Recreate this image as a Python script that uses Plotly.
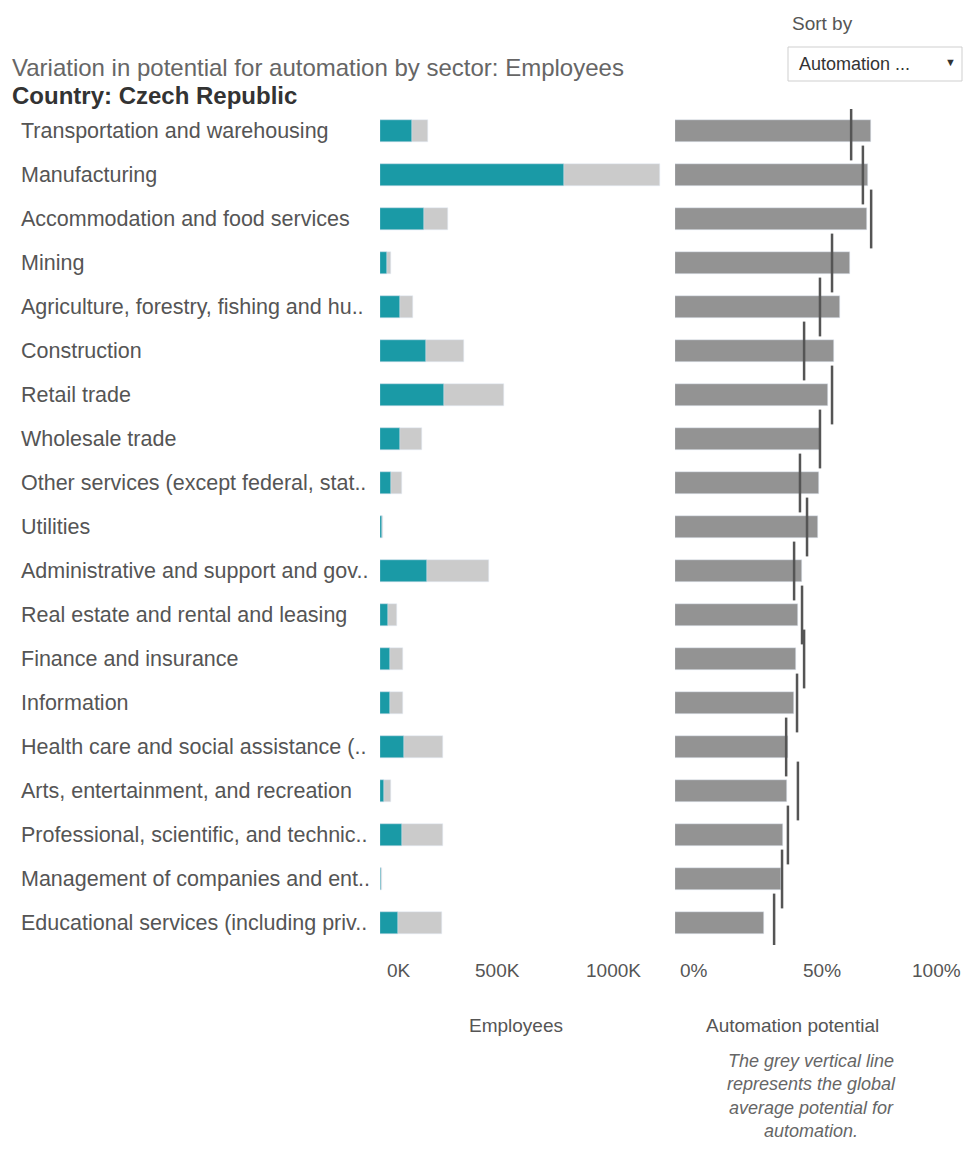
import plotly.graph_objects as go

W, H = 967, 1158

categories = [
    "Transportation and warehousing",
    "Manufacturing",
    "Accommodation and food services",
    "Mining",
    "Agriculture, forestry, fishing and hu..",
    "Construction",
    "Retail trade",
    "Wholesale trade",
    "Other services (except federal, stat..",
    "Utilities",
    "Administrative and support and gov..",
    "Real estate and rental and leasing",
    "Finance and insurance",
    "Information",
    "Health care and social assistance (..",
    "Arts, entertainment, and recreation",
    "Professional, scientific, and technic..",
    "Management of companies and ent..",
    "Educational services (including priv..",
]
# employees, thousands
total_employees = [205, 1197, 291, 47, 141, 359, 530, 180, 94, 14, 466, 73, 98, 98, 269, 47, 269, 10, 265]
automatable_employees = [137, 786, 188, 31, 86, 197, 274, 87, 45, 8, 199, 33, 42, 42, 103, 17, 96, 5, 79]
# automation potential, %
automation_pct = [66.7, 65.6, 65.3, 59.5, 56.1, 54.1, 52.0, 49.3, 49.1, 48.6, 43.2, 41.8, 41.2, 40.4, 38.3, 38.1, 36.6, 36.0, 30.3]
global_avg_pct = [59.9, 63.9, 66.7, 53.4, 49.3, 43.9, 53.4, 49.3, 42.5, 44.9, 40.5, 43.2, 43.9, 41.5, 37.8, 41.8, 38.4, 36.4, 33.7]

emp_tickvals = [0, 500, 1000]
emp_ticktext = ["0K", "500K", "1000K"]
pct_tickvals = [0, 50, 100]
pct_ticktext = ["0%", "50%", "100%"]

FONT = "Arial, 'Liberation Sans', sans-serif"
TEAL = "#1a9aa6"
LIGHT = "#cbcbcb"
MID = "#939393"
REF = "#555555"
TXT = "#555555"


def fx(px):
    return px / W


def fy(py):
    return 1 - py / H


fig = go.Figure()
fig.add_trace(go.Bar(y=categories, x=total_employees, orientation="h", marker_color=LIGHT,
                     width=0.52, xaxis="x", yaxis="y", showlegend=False))
fig.add_trace(go.Bar(y=categories, x=automatable_employees, orientation="h", marker_color=TEAL,
                     width=0.52, xaxis="x", yaxis="y", showlegend=False))
fig.add_trace(go.Bar(y=categories, x=automation_pct, orientation="h", marker_color=MID,
                     width=0.52, xaxis="x2", yaxis="y", showlegend=False))
fig.add_trace(go.Scatter(y=categories, x=global_avg_pct, mode="markers", xaxis="x2", yaxis="y",
                         marker=dict(symbol="line-ns", size=42, line=dict(width=2.5, color=REF)),
                         showlegend=False))

row_top, row_h = 109, 44
n = len(categories)
fig.update_layout(
    width=W, height=H, margin=dict(l=0, r=0, t=0, b=0),
    paper_bgcolor="white", plot_bgcolor="white",
    barmode="overlay", bargap=0,
    font=dict(family=FONT, color=TXT),
    xaxis=dict(domain=[fx(380), fx(665)], range=[0, 1218], showgrid=False, zeroline=False,
               showticklabels=False, anchor="y", fixedrange=True),
    xaxis2=dict(domain=[fx(675), 1], range=[0, 99.3], showgrid=False, zeroline=False,
                showticklabels=False, anchor="y", fixedrange=True),
    yaxis=dict(domain=[fy(row_top + n * row_h), fy(row_top)], type="category",
               categoryorder="array", categoryarray=categories,
               range=[n - 0.5, -0.5], showticklabels=False, showgrid=False, zeroline=False),
)

ann = []
for c in categories:
    ann.append(dict(x=fx(19), y=c, xref="paper", yref="y", text=c, showarrow=False,
                    xanchor="left", yanchor="middle", font=dict(size=21.5, color=TXT)))

tick_y = fy(970)
for i, (v, t) in enumerate(zip(emp_tickvals, emp_ticktext)):
    ann.append(dict(x=v, y=tick_y, xref="x", yref="paper", text=t, showarrow=False,
                    xanchor="left" if i == 0 else "center", xshift=5 if i == 0 else 0,
                    yanchor="middle", font=dict(size=19, color=TXT)))
for i, (v, t) in enumerate(zip(pct_tickvals, pct_ticktext)):
    anchor = "left" if i == 0 else ("right" if i == len(pct_tickvals) - 1 else "center")
    ann.append(dict(x=min(v, 99.3), y=tick_y, xref="x2", yref="paper", text=t, showarrow=False,
                    xanchor=anchor, xshift=3 if i == 0 else (-4 if anchor == "right" else 0),
                    yanchor="middle", font=dict(size=19, color=TXT)))

ann += [
    dict(x=fx(516), y=fy(1025), xref="paper", yref="paper", text="Employees", showarrow=False,
         xanchor="center", yanchor="middle", font=dict(size=19, color=TXT)),
    dict(x=fx(792), y=fy(1025), xref="paper", yref="paper", text="Automation potential",
         showarrow=False, xanchor="center", yanchor="middle", font=dict(size=19, color=TXT)),
    dict(x=fx(811), y=fy(1096), xref="paper", yref="paper",
         text="<i>The grey vertical line<br>represents the global<br>average potential for<br>automation.</i>",
         showarrow=False, xanchor="center", yanchor="middle", align="center",
         font=dict(size=18, color="#666666")),
    dict(x=fx(10), y=fy(68), xref="paper", yref="paper",
         text="Variation in potential for automation by sector: Employees", showarrow=False,
         xanchor="left", yanchor="middle", font=dict(size=24, color="#666666")),
    dict(x=fx(10), y=fy(95), xref="paper", yref="paper",
         text="<b>Country: Czech Republic</b>", showarrow=False,
         xanchor="left", yanchor="middle", font=dict(size=24, color="#333333")),
    dict(x=fx(790), y=fy(24), xref="paper", yref="paper", text="Sort by", showarrow=False,
         xanchor="left", yanchor="middle", font=dict(size=19, color=TXT)),
    dict(x=fx(797), y=fy(64), xref="paper", yref="paper", text="Automation ...", showarrow=False,
         xanchor="left", yanchor="middle", font=dict(size=18, color="#333333")),
    dict(x=fx(950), y=fy(62), xref="paper", yref="paper", text="▼", showarrow=False,
         xanchor="center", yanchor="middle", font=dict(size=11, color="#333333")),
]
fig.update_layout(annotations=ann)
fig.add_shape(type="rect", xref="paper", yref="paper", x0=fx(788), x1=fx(962), y0=fy(81), y1=fy(47),
              line=dict(color="#cfcfcf", width=1), fillcolor="white", layer="below")

fig.write_html("out.html")
